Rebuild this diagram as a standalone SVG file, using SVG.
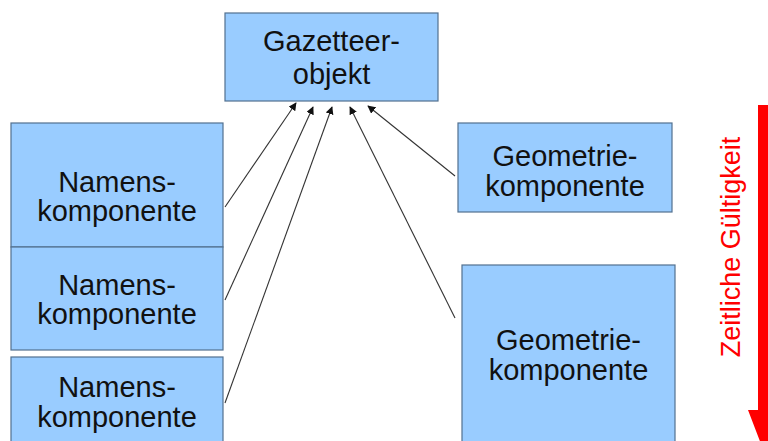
<svg xmlns="http://www.w3.org/2000/svg" width="768" height="441" viewBox="0 0 768 441">
<style>
.box{fill:#99ccff;stroke:#52708f;stroke-width:1.2}
.t{font-family:"Liberation Sans",Arial,sans-serif;font-size:29px;fill:#111;text-anchor:middle}
.c{stroke:#333;stroke-width:1.1;fill:none;marker-end:url(#ah)}
</style>
<defs>
<marker id="ah" viewBox="0 0 10 10" refX="9" refY="5" markerWidth="8" markerHeight="8" markerUnits="userSpaceOnUse" orient="auto">
<path d="M0,0 L10,5 L0,10 z" fill="#111"/>
</marker>
</defs>
<rect width="768" height="441" fill="#fff"/>
<g id="gazetteer">
<rect class="box" x="225" y="13" width="213" height="88"/>
<text class="t" x="331.5" y="51">Gazetteer-</text>
<text class="t" x="331.5" y="84">objekt</text>
</g>
<g id="namens1">
<rect class="box" x="11" y="123" width="212" height="124"/>
<text class="t" x="117" y="192">Namens-</text>
<text class="t" x="117" y="221">komponente</text>
</g>
<g id="namens2">
<rect class="box" x="11" y="247" width="212" height="103"/>
<text class="t" x="117" y="295">Namens-</text>
<text class="t" x="117" y="324">komponente</text>
</g>
<g id="namens3">
<rect class="box" x="11" y="357" width="212" height="100"/>
<text class="t" x="117" y="397">Namens-</text>
<text class="t" x="117" y="427">komponente</text>
</g>
<g id="geometrie1">
<rect class="box" x="458" y="123" width="214" height="89"/>
<text class="t" x="565" y="166">Geometrie-</text>
<text class="t" x="565" y="196">komponente</text>
</g>
<g id="geometrie2">
<rect class="box" x="462" y="265" width="213" height="190"/>
<text class="t" x="568.5" y="350">Geometrie-</text>
<text class="t" x="568.5" y="380">komponente</text>
</g>
<g id="connectors">
<line class="c" x1="225" y1="207" x2="296" y2="103"/>
<line class="c" x1="225" y1="300" x2="313" y2="107"/>
<line class="c" x1="225" y1="403" x2="332" y2="107"/>
<line class="c" x1="455" y1="318" x2="350" y2="107"/>
<line class="c" x1="455" y1="176" x2="368" y2="106"/>
</g>
<g id="zeit">
<polygon points="758,105 774,105 774,410 784,410 766,457 748,410 758,410" fill="#ff0000"/>
<text x="740" y="247" transform="rotate(-90 740 247)" font-family="'Liberation Sans',Arial,sans-serif" font-size="27" fill="#ff0000" text-anchor="middle">Zeitliche Gültigkeit</text>
</g>
</svg>
